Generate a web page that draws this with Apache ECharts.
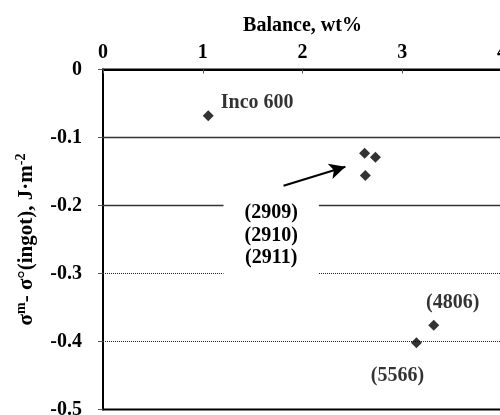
<!DOCTYPE html>
<html>
<head>
<meta charset="utf-8">
<script src="https://cdn.jsdelivr.net/npm/echarts@6/dist/echarts.min.js"></script>
<style>html,body{margin:0;padding:0;background:#fff;}#c{width:500px;height:415px;}</style>
</head>
<body>
<div id="c"></div>
<script>
// ---- data ----
const pointNames = ['Inco 600', '2909', '2910', '2911', '4806', '5566'];
const balanceWt = [1.055, 2.623, 2.731, 2.63, 3.316, 3.142];
const sigmaDiff = [-0.068, -0.123, -0.129, -0.156, -0.376, -0.402];
const pointLabels = ['Inco 600', '', '', '', '(4806)', '(5566)'];
const groupLabel = ['(2909)', '(2910)', '(2911)'];
const xTicks = [0, 1, 2, 3, 4];
const yTicks = [0, -0.1, -0.2, -0.3, -0.4, -0.5];
const solidGrid = [-0.1, -0.2];
const dottedGrid = [-0.3, -0.4];
const arrowFrom = [1.81, -0.171];
const arrowTo = [2.43, -0.143];
const groupLabelAt = [1.686, -0.2445];

const FONT = 'Liberation Serif';
const txt = {fontFamily: FONT, fontWeight: 'bold', fontSize: 20, color: '#000'};

const labelStyles = {
  'Inco 600': {position: 'right', distance: 7, offset: [0, -13]},
  '(4806)': {position: 'top', distance: 7, offset: [19, 0]},
  '(5566)': {position: 'bottom', distance: 17, offset: [-19, 0]}
};

const points = balanceWt.map((x, i) => {
  const lab = pointLabels[i];
  const item = {name: pointNames[i], value: [x, sigmaDiff[i]]};
  if (lab) {
    item.label = Object.assign({show: true, formatter: lab}, txt, labelStyles[lab]);
  }
  return item;
});

const chart = echarts.init(document.getElementById('c'), null, {renderer: 'canvas'});
chart.setOption({
  animation: false,
  backgroundColor: '#fff',
  grid: {left: 103, top: 69.5, width: 399, height: 340, show: true, containLabel: false,
         outerBoundsMode: 'none',
         borderColor: '#000', borderWidth: 2, backgroundColor: 'transparent'},
  xAxis: {
    type: 'value', position: 'top',
    min: xTicks[0], max: xTicks[xTicks.length - 1], interval: 1,
    name: 'Balance, wt%', nameLocation: 'middle', nameGap: 34,
    nameTextStyle: Object.assign({}, txt),
    axisLine: {show: true, onZero: false, lineStyle: {color: '#000', width: 2}},
    axisTick: {show: true, inside: true, length: 4, lineStyle: {color: '#555', width: 1}},
    axisLabel: Object.assign({margin: 7, hideOverlap: false}, txt),
    splitLine: {show: false}
  },
  yAxis: {
    type: 'value',
    min: yTicks[yTicks.length - 1], max: yTicks[0], interval: 0.1,
    name: '{a|σ}{s|m}{a|- σ°(ingot), J·m}{s|-2}',
    nameLocation: 'middle', nameGap: 64, nameRotate: 90,
    nameTextStyle: {
      rich: {
        a: Object.assign({}, txt, {fontSize: 21, lineHeight: 25}),
        s: {fontFamily: FONT, fontWeight: 'bold', fontSize: 14, color: '#000', verticalAlign: 'top', lineHeight: 14}
      }
    },
    axisLine: {show: true, onZero: false, lineStyle: {color: '#000', width: 2}},
    axisTick: {show: true, inside: false, length: 5, lineStyle: {color: '#555', width: 1}},
    axisLabel: Object.assign({margin: 21}, txt),
    splitLine: {show: false}
  },
  series: [
    {
      type: 'scatter', z: 1, silent: true, data: [],
      markLine: {
        z: 1, silent: true, symbol: 'none', label: {show: false},
        data: solidGrid.map(v => ({yAxis: v, lineStyle: {color: '#333', width: 1.3, type: 'solid'}}))
          .concat(dottedGrid.map(v => ({yAxis: v, lineStyle: {color: '#222', width: 1, type: 'dotted'}})))
      }
    },
    {
      type: 'scatter', z: 3, silent: true, data: [],
      markPoint: {
        z: 3, silent: true, symbol: 'rect', symbolSize: 0,
        data: [{coord: groupLabelAt, value: 0}],
        label: Object.assign({show: true, position: 'inside', formatter: groupLabel.join('\n'),
          lineHeight: 22.5, backgroundColor: '#fff', padding: [0, 21, 19, 21]}, txt)
      },
      markLine: {
        z: 5, silent: true, label: {show: false},
        symbol: ['none', 'arrow'], symbolSize: [12, 16],
        lineStyle: {color: '#000', width: 2, type: 'solid'},
        data: [[{coord: arrowFrom}, {coord: arrowTo}]]
      }
    },
    {
      type: 'scatter', z: 4, symbol: 'diamond', symbolSize: 11,
      itemStyle: {color: '#000'},
      data: points
    }
  ]
});
</script>
</body>
</html>
